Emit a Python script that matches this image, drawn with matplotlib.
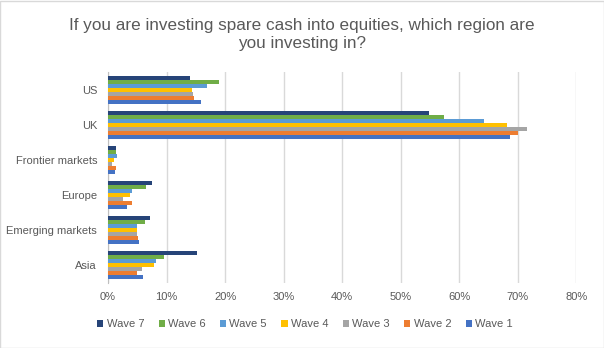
import numpy as np
import matplotlib.pyplot as plt
from matplotlib.patches import Rectangle

plt.rcParams['font.family'] = ['Liberation Sans', 'DejaVu Sans']

regions = ['US', 'UK', 'Frontier markets', 'Europe', 'Emerging markets', 'Asia']
waves = ['Wave 7', 'Wave 6', 'Wave 5', 'Wave 4', 'Wave 3', 'Wave 2', 'Wave 1']
colors = ['#264478', '#70AD47', '#5B9BD5', '#FFC000', '#A5A5A5', '#ED7D31', '#4472C4']

# percent per region, one list per wave
wave7 = [14.0, 54.8, 1.3, 7.5, 7.1, 15.2]
wave6 = [18.9, 57.4, 1.3, 6.4, 6.3, 9.5]
wave5 = [16.9, 64.2, 1.5, 4.0, 4.9, 8.2]
wave4 = [14.3, 68.2, 1.0, 3.7, 4.9, 7.8]
wave3 = [14.5, 71.6, 0.6, 2.5, 4.9, 5.8]
wave2 = [14.7, 70.0, 1.3, 4.0, 5.1, 4.9]
wave1 = [15.9, 68.7, 1.1, 3.2, 5.3, 5.9]
values = [wave7, wave6, wave5, wave4, wave3, wave2, wave1]

fig = plt.figure(figsize=(6.04, 3.48), dpi=100)
fig.patches.append(Rectangle((0.0008, 0.0014), 0.9984, 0.997, transform=fig.transFigure,
                             fill=False, edgecolor='#d9d9d9', linewidth=1))
ax = fig.add_axes([0.179, 0.188, 0.775, 0.604])

grey = '#595959'
n = len(waves)
h = 0.8 / n
y = np.arange(len(regions))
for i, (w, vals, c) in enumerate(zip(waves, values, colors)):
    offs = -0.4 + h * (i + 0.5)
    ax.barh(y + offs, vals, height=h, color=c, label=w, zorder=3)

ax.set_ylim(len(regions) - 0.5, -0.5)
ax.set_xlim(0, 80)
ax.set_xticks(np.arange(0, 81, 10))
ax.set_xticklabels([f'{v}%' for v in range(0, 81, 10)])
ax.set_yticks(y)
ax.set_yticklabels(regions)
ax.tick_params(axis='both', length=0, labelsize=8, colors=grey)
ax.tick_params(axis='y', pad=8)
ax.tick_params(axis='x', pad=7)
ax.grid(axis='x', color='#d9d9d9', linewidth=1, zorder=0)
for s in ['top', 'right', 'bottom']:
    ax.spines[s].set_visible(False)
ax.spines['left'].set_color('#bfbfbf')

fig.text(0.5, 0.9, 'If you are investing spare cash into equities, which region are\nyou investing in?',
         ha='center', va='center', fontsize=12.3, color=grey, linespacing=1.25)

ax.legend(loc='center', ncol=7, frameon=False, fontsize=8, labelcolor=grey,
          handlelength=0.55, handleheight=0.55, handletextpad=0.3, columnspacing=1.3)
ax.get_legend().set_bbox_to_anchor((0.505, 0.068), transform=fig.transFigure)

fig.savefig('out.png', dpi=100)
